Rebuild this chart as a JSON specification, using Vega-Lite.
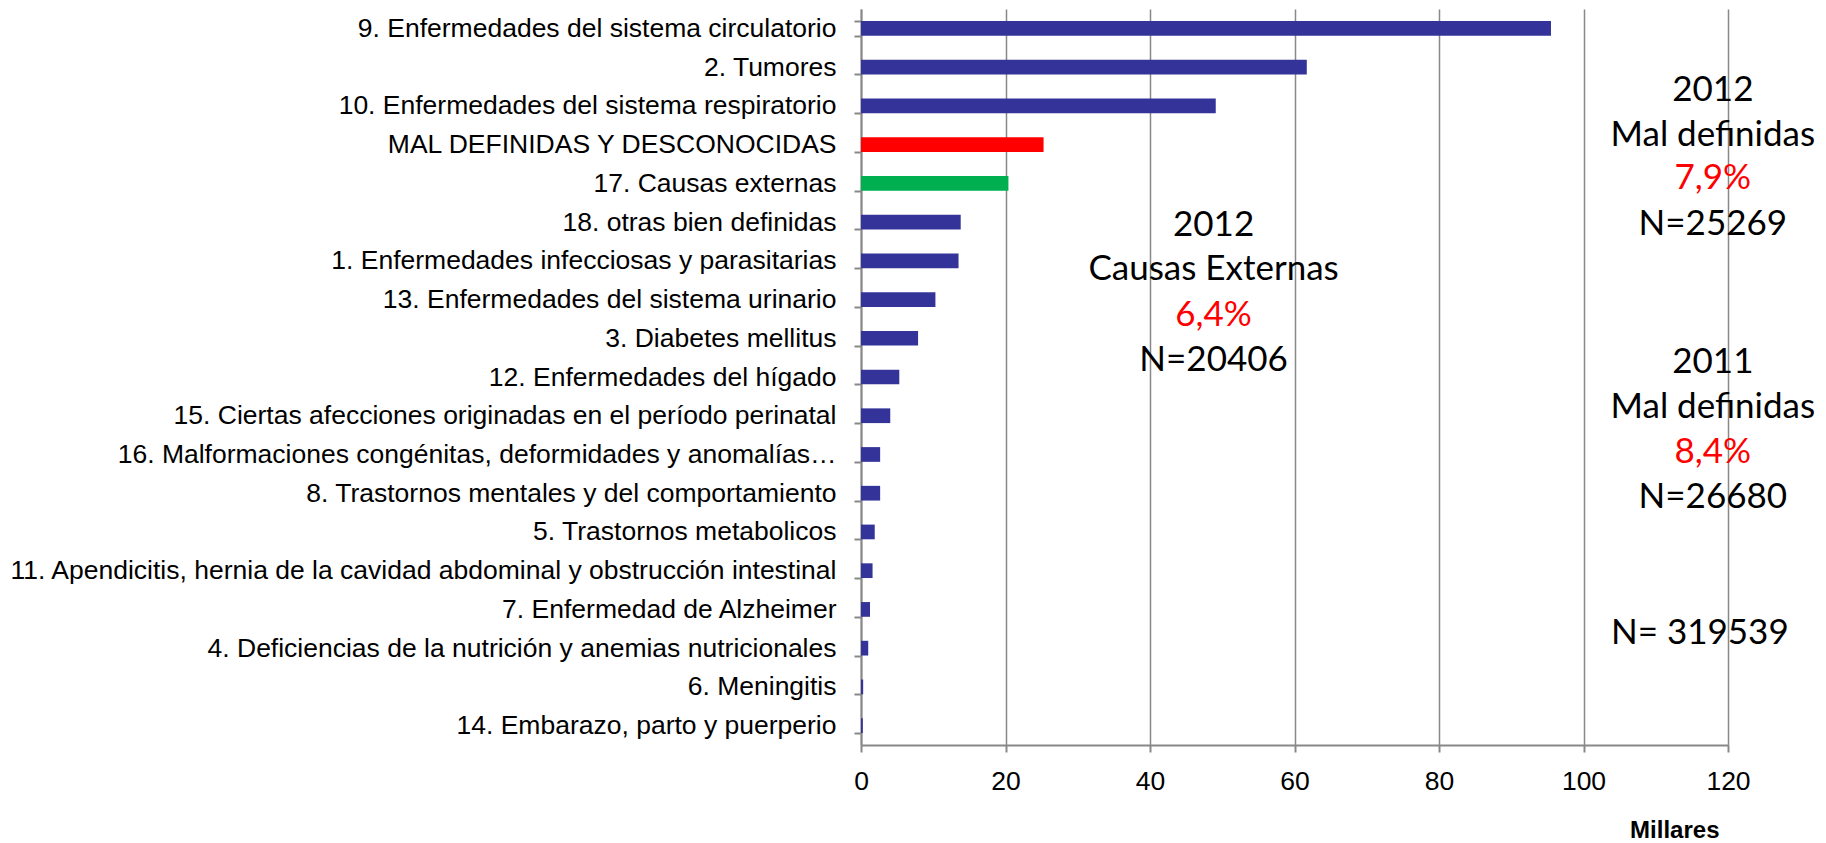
{
  "$schema": "https://vega.github.io/schema/vega-lite/v6.json",
  "width": 867,
  "height": 736,
  "autosize": {"type": "none"},
  "padding": {"left": 861, "top": 9, "right": 98, "bottom": 98},
  "background": "white",
  "config": {"view": {"stroke": null}},
  "datasets": {
    "causas": [
      {"causa": "9. Enfermedades del sistema circulatorio", "millares": 95.5, "grupo": "otras"},
      {"causa": "2. Tumores", "millares": 61.7, "grupo": "otras"},
      {"causa": "10. Enfermedades del sistema respiratorio", "millares": 49.1, "grupo": "otras"},
      {"causa": "MAL DEFINIDAS Y DESCONOCIDAS", "millares": 25.269, "grupo": "mal"},
      {"causa": "17. Causas externas", "millares": 20.406, "grupo": "externas"},
      {"causa": "18. otras bien definidas", "millares": 13.8, "grupo": "otras"},
      {"causa": "1. Enfermedades infecciosas y parasitarias", "millares": 13.5, "grupo": "otras"},
      {"causa": "13. Enfermedades del sistema urinario", "millares": 10.3, "grupo": "otras"},
      {"causa": "3. Diabetes mellitus", "millares": 7.9, "grupo": "otras"},
      {"causa": "12. Enfermedades del hígado", "millares": 5.3, "grupo": "otras"},
      {"causa": "15. Ciertas afecciones originadas en el período perinatal", "millares": 4.05, "grupo": "otras"},
      {"causa": "16. Malformaciones congénitas, deformidades y anomalías…", "millares": 2.65, "grupo": "otras"},
      {"causa": "8. Trastornos mentales y del comportamiento", "millares": 2.65, "grupo": "otras"},
      {"causa": "5. Trastornos metabolicos", "millares": 1.9, "grupo": "otras"},
      {"causa": "11. Apendicitis, hernia de la cavidad abdominal y obstrucción intestinal", "millares": 1.6, "grupo": "otras"},
      {"causa": "7. Enfermedad de Alzheimer", "millares": 1.25, "grupo": "otras"},
      {"causa": "4. Deficiencias de la nutrición y anemias nutricionales", "millares": 1.0, "grupo": "otras"},
      {"causa": "6. Meningitis", "millares": 0.3, "grupo": "otras"},
      {"causa": "14. Embarazo, parto y puerperio", "millares": 0.25, "grupo": "otras"}
    ],
    "notas": [
      {"texto": "2012", "x": 117.9, "fila": 2.09, "tipo": "texto"},
      {"texto": "Mal definidas", "x": 117.9, "fila": 3.25, "tipo": "texto"},
      {"texto": "7,9%", "x": 117.9, "fila": 4.36, "tipo": "porcentaje"},
      {"texto": "N=25269", "x": 117.9, "fila": 5.55, "tipo": "texto"},
      {"texto": "2012", "x": 48.8, "fila": 5.58, "tipo": "texto"},
      {"texto": "Causas Externas", "x": 48.8, "fila": 6.71, "tipo": "texto"},
      {"texto": "6,4%", "x": 48.8, "fila": 7.9, "tipo": "porcentaje"},
      {"texto": "N=20406", "x": 48.8, "fila": 9.06, "tipo": "texto"},
      {"texto": "2011", "x": 117.9, "fila": 9.11, "tipo": "texto"},
      {"texto": "Mal definidas", "x": 117.9, "fila": 10.27, "tipo": "texto"},
      {"texto": "8,4%", "x": 117.9, "fila": 11.44, "tipo": "porcentaje"},
      {"texto": "N=26680", "x": 117.9, "fila": 12.6, "tipo": "texto"},
      {"texto": "N= 319539", "x": 116.1, "fila": 16.11, "tipo": "texto"}
    ]
  },
  "layer": [
    {
      "data": {"name": "causas"},
      "mark": {"type": "bar"},
      "encoding": {
        "y": {
          "field": "causa",
          "type": "nominal",
          "sort": null,
          "scale": {"paddingInner": 0.62, "paddingOuter": 0.31},
          "axis": {
            "title": null,
            "domainColor": "#888888",
            "domainWidth": 2,
            "tickColor": "#888888",
            "tickWidth": 2,
            "tickSize": 7,
            "tickBand": "extent",
            "labelFont": "Liberation Sans",
            "labelFontSize": 26.5,
            "labelColor": "#000000",
            "labelPadding": 18,
            "labelLimit": 2000
          }
        },
        "x": {
          "field": "millares",
          "type": "quantitative",
          "scale": {"domain": [0, 120], "nice": false},
          "axis": {
            "values": [0, 20, 40, 60, 80, 100, 120],
            "title": "Millares",
            "titleFont": "Liberation Sans",
            "titleFontSize": 24,
            "titleFontWeight": "bold",
            "titleColor": "#000000",
            "titleAlign": "right",
            "titleBaseline": "middle",
            "titleX": 858,
            "titleY": 85,
            "grid": true,
            "gridColor": "#888888",
            "gridWidth": 1.5,
            "domainColor": "#888888",
            "domainWidth": 2,
            "tickColor": "#888888",
            "tickWidth": 2,
            "tickSize": 7,
            "labelFont": "Liberation Sans",
            "labelFontSize": 26.5,
            "labelColor": "#000000",
            "labelPadding": 16,
            "labelFlush": false
          }
        },
        "color": {
          "field": "grupo",
          "type": "nominal",
          "scale": {"domain": ["otras", "mal", "externas"], "range": ["#333399", "#FF0000", "#00B050"]},
          "legend": null
        }
      }
    },
    {
      "data": {"name": "notas"},
      "mark": {"type": "text", "font": "Lato", "fontSize": 35, "align": "center", "baseline": "middle"},
      "encoding": {
        "x": {"field": "x", "type": "quantitative"},
        "y": {
          "field": "fila",
          "type": "quantitative",
          "scale": {"domain": [0, 19], "reverse": true, "nice": false},
          "axis": null
        },
        "text": {"field": "texto"},
        "color": {
          "field": "tipo",
          "type": "nominal",
          "scale": {"domain": ["texto", "porcentaje"], "range": ["#000000", "#FF0000"]},
          "legend": null
        }
      }
    }
  ],
  "resolve": {"scale": {"y": "independent", "color": "independent"}, "axis": {"y": "independent"}}
}
